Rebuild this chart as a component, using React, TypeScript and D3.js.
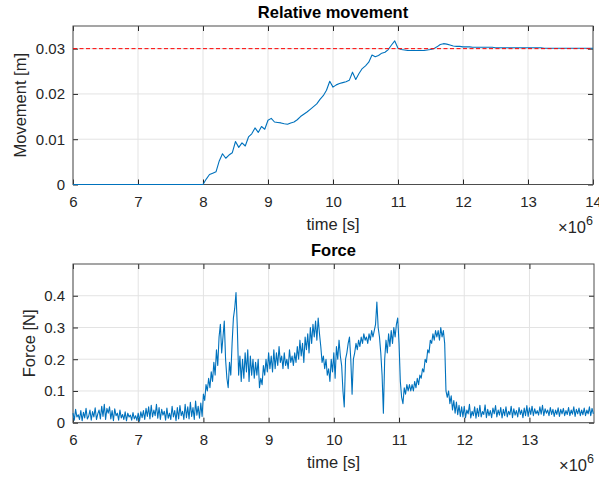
import React, { useEffect, useRef } from 'react';
import * as d3 from 'd3';

// time axis is in units of 1e6 s (shown as "x10^6" at the right)
const timeTicks = [6, 7, 8, 9, 10, 11, 12, 13, 14];
const forceTimeTicks = [6, 7, 8, 9, 10, 11, 12, 13];
const movementTicks = [0, 0.01, 0.02, 0.03];
const forceTicks = [0, 0.1, 0.2, 0.3, 0.4];
const movementLimit = 0.03;

// relative movement [m], sampled every 0.05e6 s starting at 6e6 s
const movementStart = 6;
const movementStep = 0.05;
const movement = [
  0, 0, 0, 0, 0, 0, 0, 0, 0, 0,
  0, 0, 0, 0, 0, 0, 0, 0, 0, 0,
  0, 0, 0, 0, 0, 0, 0, 0, 0, 0,
  0, 0, 0, 0, 0, 0, 0, 0, 0, 0,
  0, 0.0012, 0.0022, 0.0025, 0.0028, 0.0052, 0.0068, 0.0058, 0.0065, 0.007,
  0.0095, 0.0082, 0.0092, 0.0085, 0.0105, 0.0112, 0.0125, 0.0115, 0.0128, 0.0122,
  0.0142, 0.0146, 0.0138, 0.0137, 0.0136, 0.0134, 0.0133, 0.0136, 0.0138, 0.0143,
  0.015, 0.0155, 0.016, 0.0166, 0.0172, 0.0178, 0.0188, 0.0196, 0.0208, 0.0228,
  0.0215, 0.022, 0.0223, 0.0225, 0.0227, 0.023, 0.0248, 0.0232, 0.0245, 0.0256,
  0.0262, 0.027, 0.0286, 0.0282, 0.0285, 0.029, 0.0292, 0.0298, 0.0308, 0.0317,
  0.0301, 0.0298, 0.0297, 0.0296, 0.0296, 0.0296, 0.0296, 0.0296, 0.0296, 0.0297,
  0.0298, 0.03, 0.0304, 0.0309, 0.0311, 0.031, 0.0308, 0.0306, 0.0305, 0.0305,
  0.0304, 0.0304, 0.0304, 0.0303, 0.0303, 0.0303, 0.0303, 0.0303, 0.0303, 0.0303,
  0.0302, 0.0302, 0.0302, 0.0302, 0.0302, 0.0302, 0.0302, 0.0302, 0.0302, 0.0302,
  0.0302, 0.0302, 0.0302, 0.0302, 0.0302, 0.0301, 0.0301, 0.0301, 0.0301, 0.0301,
  0.0301, 0.0301, 0.0301, 0.0301, 0.0301, 0.0301, 0.0301, 0.0301, 0.0301, 0.0301,
  0.0301,
];

// force [N], sampled every 0.02e6 s starting at 6e6 s
const forceStart = 6;
const forceStep = 0.02;
const force = [
  0.03, 0.008, 0.042, 0.018, 0.025, 0.01, 0.038, 0.006, 0.033, 0.015,
  0.045, 0.012, 0.02, 0.04, 0.008, 0.035, 0.018, 0.047, 0.01, 0.028,
  0.04, 0.012, 0.052, 0.02, 0.058, 0.01, 0.045, 0.03, 0.05, 0.012,
  0.038, 0.006, 0.044, 0.022, 0.03, 0.008, 0.04, 0.015, 0.026, 0.01,
  0.034, 0.006, 0.03, 0.018, 0.024, 0.008, 0.032, 0.012, 0.022, 0.007,
  0.03, 0.005, 0.034, 0.016, 0.038, 0.01, 0.045, 0.02, 0.05, 0.012,
  0.055, 0.018, 0.04, 0.022, 0.058, 0.014, 0.048, 0.01, 0.042, 0.024,
  0.036, 0.008, 0.046, 0.014, 0.03, 0.01, 0.052, 0.018, 0.038, 0.006,
  0.048, 0.012, 0.054, 0.022, 0.036, 0.01, 0.058, 0.016, 0.05, 0.012,
  0.064, 0.02, 0.048, 0.01, 0.068, 0.024, 0.052, 0.014, 0.062, 0.02,
  0.09, 0.07, 0.12, 0.1, 0.14, 0.11, 0.16, 0.13, 0.19, 0.15,
  0.23, 0.18, 0.27, 0.31, 0.22, 0.27, 0.32, 0.2, 0.14, 0.11,
  0.19, 0.15, 0.25, 0.33, 0.36, 0.41, 0.3, 0.15, 0.21, 0.13,
  0.2, 0.14, 0.22, 0.16, 0.23, 0.13, 0.21, 0.15, 0.2, 0.14,
  0.19, 0.15, 0.2, 0.11, 0.14, 0.12, 0.18, 0.15, 0.2, 0.16,
  0.22, 0.17, 0.21, 0.16, 0.23, 0.17, 0.22, 0.18, 0.24, 0.19,
  0.21, 0.17, 0.22, 0.18, 0.2, 0.17, 0.23, 0.19, 0.21, 0.18,
  0.22, 0.19, 0.24, 0.2, 0.26, 0.21, 0.25, 0.19, 0.27, 0.23,
  0.28, 0.22, 0.3, 0.25, 0.31, 0.27, 0.32, 0.26, 0.33, 0.28,
  0.24, 0.19, 0.21, 0.17, 0.2, 0.15, 0.17, 0.13, 0.2, 0.16,
  0.22, 0.14, 0.24, 0.2, 0.26, 0.21, 0.18, 0.1, 0.05, 0.2,
  0.22, 0.25, 0.27, 0.2, 0.09, 0.2, 0.22, 0.25, 0.23, 0.26,
  0.24, 0.27, 0.25, 0.28, 0.26, 0.27, 0.25, 0.28, 0.26, 0.29,
  0.27, 0.29, 0.31, 0.38, 0.3, 0.27, 0.22, 0.15, 0.03, 0.2,
  0.26, 0.22, 0.28, 0.24, 0.29, 0.25, 0.3, 0.27, 0.31, 0.33,
  0.25, 0.13, 0.08, 0.06, 0.11, 0.09, 0.12, 0.1, 0.12, 0.1,
  0.12, 0.1, 0.13, 0.11, 0.14, 0.12, 0.15, 0.14, 0.17, 0.16,
  0.2, 0.19, 0.23, 0.22, 0.26, 0.25, 0.28, 0.26, 0.29, 0.27,
  0.29, 0.26, 0.3, 0.27, 0.29, 0.25, 0.1, 0.08, 0.1, 0.06,
  0.085, 0.04, 0.07, 0.03, 0.065, 0.025, 0.055, 0.02, 0.05, 0.018,
  0.052, 0.016, 0.04, 0.028, 0.058, 0.015, 0.036, 0.022, 0.05, 0.014,
  0.045, 0.02, 0.055, 0.018, 0.035, 0.026, 0.056, 0.016, 0.042, 0.022,
  0.038, 0.016, 0.046, 0.028, 0.054, 0.018, 0.04, 0.024, 0.048, 0.015,
  0.042, 0.022, 0.05, 0.018, 0.036, 0.025, 0.052, 0.016, 0.044, 0.024,
  0.038, 0.018, 0.048, 0.026, 0.04, 0.016, 0.046, 0.022, 0.054, 0.02,
  0.047, 0.026, 0.052, 0.022, 0.044, 0.028, 0.038, 0.024, 0.05, 0.027,
  0.055, 0.022, 0.044, 0.03, 0.04, 0.022, 0.048, 0.026, 0.042, 0.02,
  0.04, 0.026, 0.047, 0.02, 0.042, 0.028, 0.045, 0.022, 0.038, 0.026,
  0.048, 0.022, 0.04, 0.027, 0.05, 0.02, 0.042, 0.028, 0.046, 0.022,
  0.04, 0.025, 0.046, 0.022, 0.04, 0.028, 0.05, 0.022, 0.045, 0.028,
];

const FONT = "'Liberation Sans', Arial, Helvetica, sans-serif";
const TEXT = '#262626';
const BLUE = '#0072BD';

function drawPanel(svg, p) {
  const x = d3.scaleLinear().domain(p.xDomain).range([p.left, p.right]);
  const y = d3.scaleLinear().domain(p.yDomain).range([p.bottom, p.top]);
  const g = svg.append('g');

  // grid
  g.selectAll('.vgrid')
    .data(p.xTicks)
    .join('line')
    .attr('x1', (d) => x(d)).attr('x2', (d) => x(d))
    .attr('y1', p.top).attr('y2', p.bottom)
    .attr('stroke', '#e3e3e3').attr('stroke-width', 1);
  g.selectAll('.hgrid')
    .data(p.yTicks)
    .join('line')
    .attr('x1', p.left).attr('x2', p.right)
    .attr('y1', (d) => y(d)).attr('y2', (d) => y(d))
    .attr('stroke', '#e3e3e3').attr('stroke-width', 1);

  // axes with inward ticks
  const styleAxis = (sel) => {
    sel.select('.domain').remove();
    sel.selectAll('line').attr('stroke', '#262626');
    sel.selectAll('text')
      .attr('fill', TEXT)
      .style('font-family', FONT)
      .style('font-size', '15px');
  };
  g.append('g')
    .attr('transform', `translate(0,${p.bottom})`)
    .call(d3.axisBottom(x).tickValues(p.xTicks).tickSizeInner(-5).tickSizeOuter(0).tickPadding(12).tickFormat(d3.format('d')))
    .call(styleAxis);
  g.append('g')
    .attr('transform', `translate(0,${p.top})`)
    .call(d3.axisTop(x).tickValues(p.xTicks).tickSizeInner(-5).tickSizeOuter(0).tickFormat(() => ''))
    .call(styleAxis);
  g.append('g')
    .attr('transform', `translate(${p.left},0)`)
    .call(d3.axisLeft(y).tickValues(p.yTicks).tickSizeInner(-5).tickSizeOuter(0).tickPadding(8).tickFormat((d) => String(d)))
    .call(styleAxis);
  g.append('g')
    .attr('transform', `translate(${p.right},0)`)
    .call(d3.axisRight(y).tickValues(p.yTicks).tickSizeInner(-5).tickSizeOuter(0).tickFormat(() => ''))
    .call(styleAxis);

  // box
  g.append('rect')
    .attr('x', p.left).attr('y', p.top)
    .attr('width', p.right - p.left).attr('height', p.bottom - p.top)
    .attr('fill', 'none').attr('stroke', '#4d4d4d').attr('stroke-width', 1);

  // data
  const pts = p.values.map((v, i) => [p.start + i * p.step, v]);
  const line = d3.line().x((d) => x(d[0])).y((d) => y(d[1]));
  g.append('path')
    .datum(pts)
    .attr('fill', 'none')
    .attr('stroke', BLUE)
    .attr('stroke-width', 1.1)
    .attr('stroke-linejoin', 'round')
    .attr('d', line);

  if (p.refLine != null) {
    g.append('line')
      .attr('x1', p.left).attr('x2', p.right)
      .attr('y1', y(p.refLine)).attr('y2', y(p.refLine))
      .attr('stroke', '#ff0000')
      .attr('stroke-width', 1)
      .attr('stroke-dasharray', '4,2.5');
  }

  // title, labels
  const cx = (p.left + p.right) / 2;
  g.append('text')
    .attr('x', cx).attr('y', p.top - 8)
    .attr('text-anchor', 'middle')
    .attr('fill', '#000')
    .style('font-family', FONT).style('font-size', '16.5px').style('font-weight', 'bold')
    .text(p.title);
  g.append('text')
    .attr('x', cx).attr('y', p.bottom + 45)
    .attr('text-anchor', 'middle')
    .attr('fill', TEXT)
    .style('font-family', FONT).style('font-size', '16.5px')
    .text('time [s]');
  g.append('text')
    .attr('transform', `translate(${p.ylabelX},${(p.top + p.bottom) / 2}) rotate(-90)`)
    .attr('text-anchor', 'middle')
    .attr('fill', TEXT)
    .style('font-family', FONT).style('font-size', '16.5px')
    .text(p.ylabel);
  const ex = g.append('text')
    .attr('x', p.right)
    .attr('y', p.bottom + 48)
    .attr('text-anchor', 'end')
    .attr('fill', TEXT)
    .style('font-family', FONT).style('font-size', '16.5px');
  ex.append('tspan').text('\u00d710');
  ex.append('tspan').attr('dy', -8).style('font-size', '12.5px').text('6');
}

export default function App() {
  const ref = useRef(null);

  useEffect(() => {
    const svg = d3.select(ref.current);
    svg.selectAll('*').remove();
    svg.append('rect').attr('width', 599).attr('height', 477).attr('fill', '#fff');

    drawPanel(svg, {
      left: 73, right: 593, top: 26, bottom: 184.5,
      xDomain: [6, 14], yDomain: [0, 0.035],
      xTicks: timeTicks, yTicks: movementTicks,
      values: movement, start: movementStart, step: movementStep,
      refLine: movementLimit,
      title: 'Relative movement', ylabel: 'Movement [m]', ylabelX: 26,
    });
    drawPanel(svg, {
      left: 73, right: 594, top: 264, bottom: 422.7,
      xDomain: [6, 13.99], yDomain: [0, 0.5],
      xTicks: forceTimeTicks, yTicks: forceTicks,
      values: force, start: forceStart, step: forceStep,
      refLine: null,
      title: 'Force', ylabel: 'Force [N]', ylabelX: 35,
    });
  }, []);

  return (
    <svg
      ref={ref}
      width={599}
      height={477}
      style={{ position: 'absolute', left: 0, top: 0 }}
    />
  );
}
